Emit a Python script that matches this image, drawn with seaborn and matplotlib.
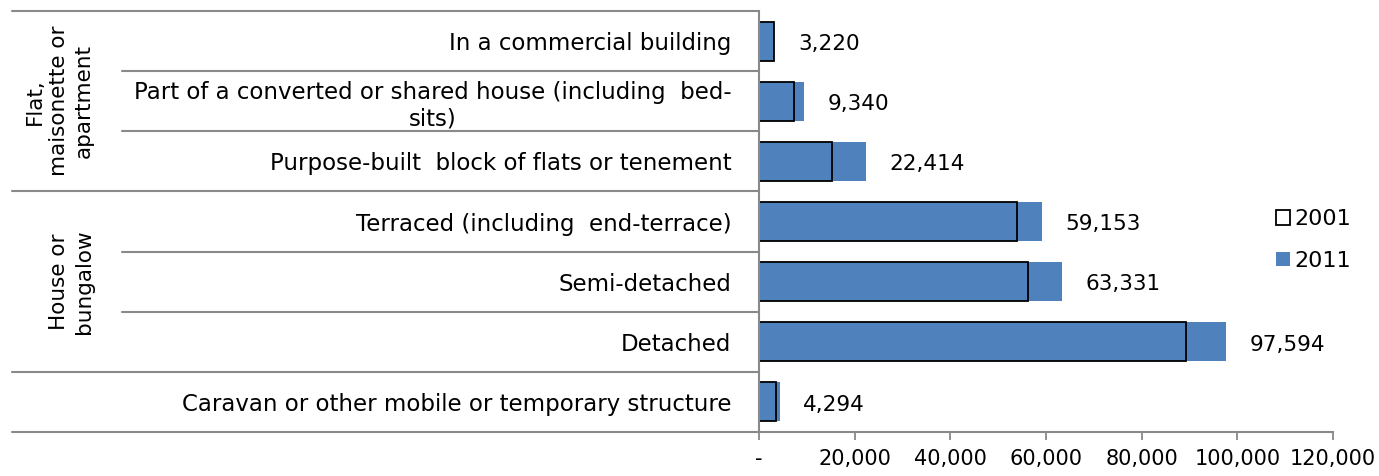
import matplotlib
matplotlib.use("Agg")
import matplotlib.pyplot as plt
import matplotlib.transforms as mtransforms
from matplotlib.patches import Patch
from matplotlib.ticker import FuncFormatter
import seaborn as sns
import pandas as pd

categories = [
    "In a commercial building",
    "Part of a converted or shared house (including  bed-\nsits)",
    "Purpose-built  block of flats or tenement",
    "Terraced (including  end-terrace)",
    "Semi-detached",
    "Detached",
    "Caravan or other mobile or temporary structure",
]
values_2011 = [3220, 9340, 22414, 59153, 63331, 97594, 4294]
values_2001 = [3150, 7250, 15330, 54000, 56170, 89340, 3550]
value_labels = ["3,220", "9,340", "22,414", "59,153", "63,331", "97,594", "4,294"]
group_labels = ["Flat,\nmaisonette or\napartment", "House or\nbungalow"]
group_rows = [1, 4]
x_ticks = [0, 20000, 40000, 60000, 80000, 100000, 120000]
series_names = ["2001", "2011"]

BLUE = "#4F81BD"
GRAY = "#898989"

sns.set_style("white")
plt.rcParams["font.family"] = ["DejaVu Sans"]
plt.rcParams["text.color"] = "black"
plt.rcParams["xtick.color"] = "black"
plt.rcParams["ytick.color"] = "black"

df = pd.DataFrame({"cat": categories, "v2011": values_2011, "v2001": values_2001})

fig = plt.figure(figsize=(13.79, 4.76), dpi=100)
W, H = 1379, 476
ax = fig.add_axes([759 / W, 1 - 432 / H, (1333 - 759) / W, (432 - 11) / H])

sns.barplot(data=df, x="v2011", y="cat", orient="h", color=BLUE, saturation=1,
            width=0.65, errorbar=None, ax=ax, edgecolor="none", linewidth=0)
sns.barplot(data=df, x="v2001", y="cat", orient="h", color="black", fill=False,
            width=0.65, errorbar=None, ax=ax, linewidth=1.3)

txts = ax.bar_label(ax.containers[0], labels=value_labels, padding=17, fontsize=15.5,
                    color="black")
for t in txts:
    t.xyann = (t.xyann[0], -2)

ax.set_xlim(0, 120000)
ax.set_ylim(6.5, -0.5)
ax.set_xticks(x_ticks)
ax.xaxis.set_major_formatter(FuncFormatter(lambda v, p: "-" if v == 0 else f"{int(v):,}"))
ax.tick_params(axis="x", direction="out", length=6, width=1.3, color=GRAY,
               labelcolor="black", labelsize=15, pad=6, bottom=True)
ax.tick_params(axis="y", length=0, pad=20, labelsize=16.5, labelcolor="black")
for lab in ax.get_yticklabels():
    lab.set_multialignment("center")
ax.set_xlabel("")
ax.set_ylabel("")
for s in ["top", "right"]:
    ax.spines[s].set_visible(False)
for s in ["left", "bottom"]:
    ax.spines[s].set_color(GRAY)
    ax.spines[s].set_linewidth(1.5)

tr = mtransforms.blended_transform_factory(fig.transFigure, ax.transData)
for yb in [-0.5, 2.5, 5.5, 6.5]:
    ax.plot([12 / W, 759 / W], [yb, yb], transform=tr, color=GRAY, lw=1.5, clip_on=False)
for yb in [0.5, 1.5, 3.5, 4.5]:
    ax.plot([122 / W, 759 / W], [yb, yb], transform=tr, color=GRAY, lw=1.5, clip_on=False)

for lab, r in zip(group_labels, group_rows):
    ax.text(94 / W, r, lab, transform=tr, rotation=90, ha="right", va="center",
            multialignment="center", fontsize=15.5, linespacing=1.3, color="black")

handles = [Patch(facecolor="white", edgecolor="black", linewidth=1.3),
           Patch(facecolor=BLUE, edgecolor="none")]
fig.legend(handles, series_names, loc="center left", bbox_to_anchor=(1276 / W, 1 - 240 / H),
           frameon=False, fontsize=16, handlelength=0.63, handleheight=0.63,
           handletextpad=0.2, labelspacing=0.98, borderpad=0, borderaxespad=0,
           labelcolor="black")

fig.savefig("out.png", dpi=100)
